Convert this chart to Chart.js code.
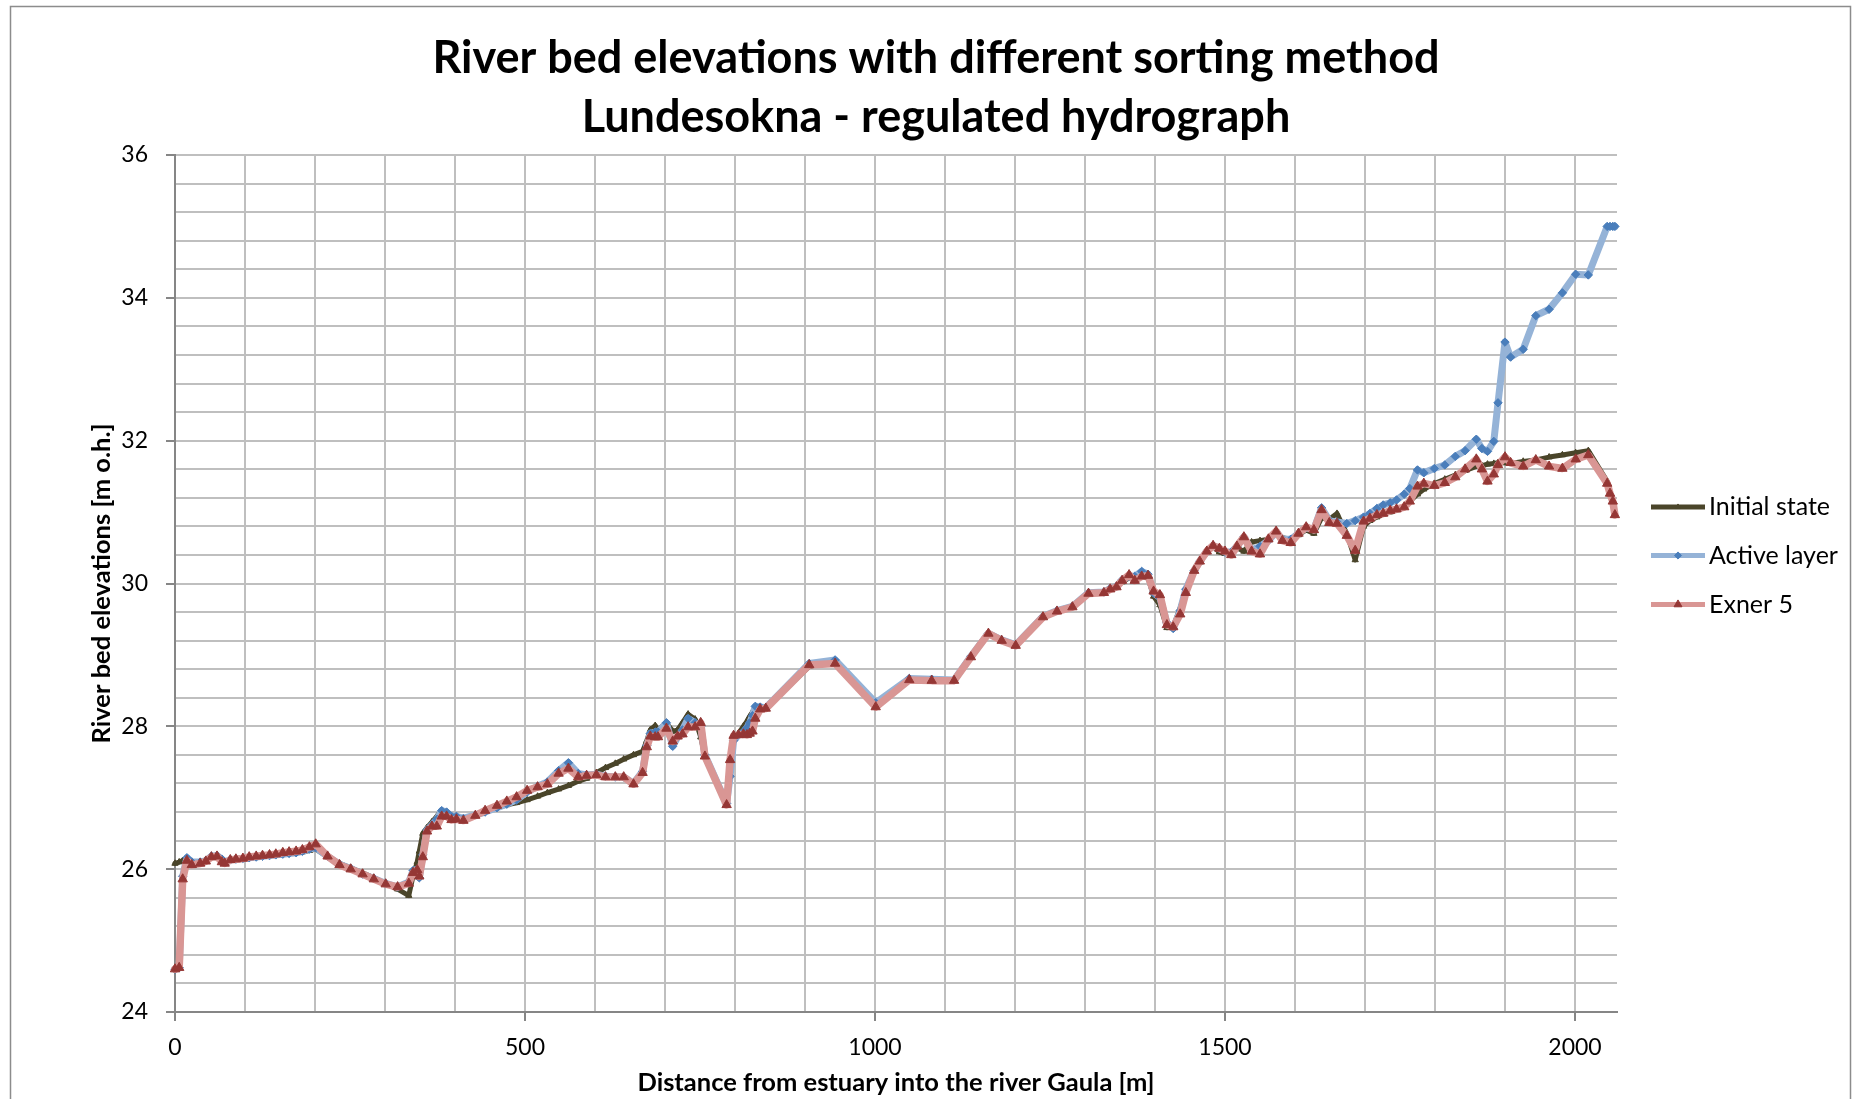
<!DOCTYPE html>
<html>
<head>
<meta charset="utf-8">
<title>River bed elevations with different sorting method</title>
<script src="https://cdn.jsdelivr.net/npm/chart.js@4.4.1/dist/chart.umd.min.js"></script>
<style>
  html, body { margin: 0; padding: 0; background: #ffffff; }
  #wrap { width: 1860px; height: 1099px; }
</style>
</head>
<body>
<div id="wrap"><canvas id="chart" width="1860" height="1099"></canvas></div>
<script>
// Cross-section positions along the river [m]
const distance = [
  0, 6, 11, 17, 24, 36, 44, 52, 60, 67,
  71, 79, 87, 97, 106, 116, 125, 135, 144, 154,
  163, 173, 182, 192, 201, 218, 235, 251, 268, 284,
  301, 318, 334, 340, 346, 349, 354, 360, 367, 374,
  381, 388, 395, 402, 412, 429, 443, 460, 474, 488,
  503, 518, 532, 548, 562, 576, 588, 602, 615, 629,
  641, 655, 668, 674, 679, 686, 690, 702, 711, 718,
  725, 733, 743, 751, 757, 788, 793, 798, 805, 812,
  817, 821, 825, 829, 836, 844, 906, 943, 1001, 1049,
  1081, 1113, 1137, 1162, 1181, 1201, 1240, 1260, 1282, 1305,
  1327, 1336, 1345, 1353, 1363, 1371, 1381, 1390, 1398, 1407,
  1417, 1426, 1436, 1444, 1456, 1464, 1474, 1483, 1492, 1500,
  1509, 1517, 1527, 1538, 1550, 1562, 1573, 1582, 1594, 1605,
  1616, 1627, 1638, 1649, 1660, 1674, 1686, 1698, 1707, 1717,
  1726, 1736, 1745, 1756, 1764, 1775, 1784, 1799, 1814, 1829,
  1843, 1859, 1867, 1875, 1884, 1890, 1900, 1908, 1926, 1944,
  1963, 1982, 2001, 2019, 2046, 2050, 2054, 2057
];

// Bed elevation before the simulation [m o.h.]
const initialState = [
  26.08, 26.10, 26.12, 26.15, 26.10, 26.10, 26.12, 26.16, 26.18, 26.13,
  26.10, 26.13, 26.14, 26.15, 26.16, 26.17, 26.18, 26.19, 26.20, 26.21,
  26.22, 26.23, 26.24, 26.26, 26.28, 26.17, 26.08, 26.02, 25.95, 25.88,
  25.80, 25.72, 25.63, 25.90, 26.10, 26.25, 26.50, 26.58, 26.66, 26.74,
  26.82, 26.78, 26.74, 26.72, 26.70, 26.76, 26.81, 26.86, 26.90, 26.93,
  26.97, 27.02, 27.07, 27.12, 27.17, 27.23, 27.27, 27.35, 27.42, 27.48,
  27.54, 27.60, 27.65, 27.80, 27.95, 28.01, 27.95, 28.05, 27.93, 27.95,
  28.05, 28.17, 28.10, 27.85, 27.58, 26.92, 27.40, 27.84, 27.90, 28.00,
  28.07, 28.14, 28.20, 28.28, 28.26, 28.25, 28.84, 28.90, 28.33, 28.65,
  28.64, 28.64, 28.97, 29.29, 29.20, 29.13, 29.53, 29.61, 29.67, 29.86,
  29.87, 29.92, 29.95, 30.02, 30.08, 30.06, 30.10, 30.08, 29.82, 29.70,
  29.38, 29.40, 29.66, 29.90, 30.18, 30.30, 30.44, 30.52, 30.44, 30.42,
  30.44, 30.50, 30.45, 30.58, 30.60, 30.62, 30.70, 30.64, 30.62, 30.68,
  30.75, 30.70, 30.92, 30.90, 30.98, 30.70, 30.33, 30.80, 30.88, 30.93,
  30.97, 31.00, 31.03, 31.08, 31.15, 31.25, 31.32, 31.40, 31.46, 31.52,
  31.58, 31.64, 31.65, 31.67, 31.68, 31.69, 31.69, 31.68, 31.71, 31.73,
  31.77, 31.80, 31.83, 31.86, 31.43, null, null, null
];

// Bed elevation, active layer sorting [m o.h.]
const activeLayer = [
  24.60, 24.62, 25.90, 26.16, 26.10, 26.10, 26.12, 26.18, 26.19, 26.14,
  26.10, 26.13, 26.14, 26.15, 26.16, 26.17, 26.18, 26.19, 26.20, 26.21,
  26.22, 26.23, 26.25, 26.28, 26.30, 26.18, 26.07, 26.01, 25.93, 25.87,
  25.80, 25.75, 25.82, 25.98, 26.00, 25.88, 26.20, 26.55, 26.62, 26.70,
  26.82, 26.80, 26.74, 26.74, 26.71, 26.76, 26.80, 26.86, 26.91, 26.97,
  27.08, 27.16, 27.22, 27.38, 27.49, 27.34, 27.32, 27.33, 27.30, 27.29,
  27.29, 27.20, 27.37, 27.73, 27.90, 27.92, 27.92, 28.05, 27.72, 27.85,
  27.95, 28.11, 28.05, 28.00, 27.60, 26.92, 27.30, 27.80, 27.88, 27.92,
  27.98, 28.05, 28.15, 28.28, 28.27, 28.26, 28.88, 28.93, 28.33, 28.67,
  28.66, 28.65, 28.98, 29.30, 29.21, 29.14, 29.54, 29.62, 29.68, 29.87,
  29.88, 29.93, 29.96, 30.05, 30.10, 30.10, 30.17, 30.13, 29.87, 29.80,
  29.45, 29.37, 29.62, 29.92, 30.18, 30.31, 30.45, 30.53, 30.49, 30.44,
  30.44, 30.52, 30.65, 30.47, 30.52, 30.60, 30.72, 30.62, 30.62, 30.70,
  30.78, 30.76, 31.06, 30.88, 30.86, 30.84, 30.88, 30.93, 30.98, 31.05,
  31.10, 31.13, 31.17, 31.25, 31.33, 31.59, 31.55, 31.61, 31.66, 31.78,
  31.86, 32.02, 31.89, 31.85, 31.99, 32.53, 33.38, 33.17, 33.28, 33.75,
  33.84, 34.07, 34.33, 34.32, 35.00, 35.00, 35.00, 35.00
];

// Bed elevation, Exner 5 sorting [m o.h.]
const exner5 = [
  24.60, 24.62, 25.86, 26.12, 26.06, 26.08, 26.11, 26.17, 26.18, 26.10,
  26.08, 26.13, 26.14, 26.15, 26.17, 26.18, 26.19, 26.20, 26.21, 26.23,
  26.24, 26.25, 26.27, 26.31, 26.35, 26.18, 26.06, 26.00, 25.93, 25.86,
  25.79, 25.75, 25.80, 25.95, 25.99, 25.90, 26.17, 26.53, 26.60, 26.60,
  26.74, 26.74, 26.69, 26.70, 26.68, 26.75, 26.82, 26.89, 26.95, 27.01,
  27.10, 27.15, 27.19, 27.34, 27.41, 27.29, 27.31, 27.32, 27.29, 27.29,
  27.29, 27.19, 27.35, 27.71, 27.86, 27.85, 27.85, 27.97, 27.79, 27.86,
  27.89, 27.99, 27.99, 28.05, 27.58, 26.90, 27.53, 27.87, 27.88, 27.89,
  27.88, 27.90, 27.93, 28.11, 28.24, 28.25, 28.86, 28.88, 28.27, 28.65,
  28.64, 28.64, 28.97, 29.30, 29.20, 29.13, 29.53, 29.61, 29.67, 29.86,
  29.87, 29.92, 29.95, 30.04, 30.12, 30.04, 30.10, 30.11, 29.89, 29.84,
  29.42, 29.39, 29.57, 29.87, 30.18, 30.31, 30.45, 30.53, 30.49, 30.45,
  30.40, 30.52, 30.65, 30.45, 30.41, 30.62, 30.73, 30.60, 30.57, 30.70,
  30.79, 30.75, 31.03, 30.85, 30.84, 30.67, 30.46, 30.87, 30.91, 30.96,
  30.98, 31.02, 31.04, 31.07, 31.15, 31.36, 31.40, 31.37, 31.41, 31.49,
  31.60, 31.74, 31.60, 31.43, 31.53, 31.66, 31.77, 31.69, 31.64, 31.73,
  31.64, 31.61, 31.74, 31.80, 31.40, 31.26, 31.15, 30.96
];

// Axis labels
const xTickLabels = [0, 500, 1000, 1500, 2000];
const yTickLabels = [24, 26, 28, 30, 32, 34, 36];

const seriesNames = ['Initial state', 'Active layer', 'Exner 5'];
const titleLines = [
  'River bed elevations with different sorting method',
  'Lundesokna - regulated hydrograph'
];
const xAxisTitle = 'Distance from estuary into the river Gaula [m]';
const yAxisTitle = 'River bed elevations [m o.h.]';

// Axis ranges and grid spacing
const X_MIN = 0, X_MAX = 2060, X_GRID = 100, X_GRID_END = 2000;
const Y_MIN = 24, Y_MAX = 36, Y_GRID = 0.4;

const FONT = 'Lato';
const GRID_COLOR = '#bfbfbf';
const AXIS_COLOR = '#868686';

function toPoints(values) {
  const pts = [];
  values.forEach((v, i) => { if (v !== null) pts.push({ x: distance[i], y: v }); });
  return pts;
}

function gridValues(start, end, step) {
  const out = [];
  const n = Math.round((end - start) / step);
  for (let i = 0; i <= n; i++) out.push(Math.round((start + i * step) * 1000) / 1000);
  return out;
}

// Title and legend painted around the plot area
const framePlugin = {
  id: 'frame',
  beforeDraw(chart) {
    const { ctx, width, height } = chart;
    ctx.save();
    ctx.fillStyle = '#ffffff';
    ctx.fillRect(0, 0, width, height);
    ctx.strokeStyle = '#8c8c8c';
    ctx.lineWidth = 1.5;
    ctx.strokeRect(10.5, 6.5, width - 20, height + 10);
    ctx.restore();
  },
  afterDraw(chart, args, opts) {
    const { ctx } = chart;
    ctx.save();
    ctx.fillStyle = '#000000';
    ctx.textAlign = 'center';
    ctx.textBaseline = 'middle';
    ctx.font = `bold ${opts.titleSize}px ${FONT}`;
    titleLines.forEach((line, i) => ctx.fillText(line, opts.titleX, opts.titleY[i]));

    chart.data.datasets.forEach((ds, i) => {
      const y = opts.legendRows[i];
      ctx.strokeStyle = ds.borderColor;
      ctx.lineWidth = opts.legendLineWidth;
      ctx.lineCap = 'butt';
      ctx.beginPath();
      ctx.moveTo(opts.legendX0, y);
      ctx.lineTo(opts.legendX1, y);
      ctx.stroke();
      ctx.fillStyle = ds.pointBackgroundColor;
      ctx.strokeStyle = ds.pointBorderColor;
      ctx.lineWidth = ds.pointBorderWidth;
      Chart.helpers.drawPoint(ctx, {
        pointStyle: ds.pointStyle, radius: ds.pointRadius * 0.85,
        borderWidth: ds.pointBorderWidth, rotation: 0
      }, (opts.legendX0 + opts.legendX1) / 2, y);
      ctx.fillStyle = '#000000';
      ctx.textAlign = 'left';
      ctx.textBaseline = 'middle';
      ctx.font = `${opts.legendSize}px ${FONT}`;
      ctx.fillText(ds.label, opts.legendTextX, y);
    });
    ctx.restore();
  }
};

const ctx = document.getElementById('chart').getContext('2d');
new Chart(ctx, {
  type: 'scatter',
  data: {
    datasets: [
      {
        label: seriesNames[0],
        data: toPoints(initialState),
        showLine: true,
        borderColor: '#4a452a',
        borderWidth: 5,
        pointStyle: 'triangle',
        pointRadius: 3.6,
        pointBackgroundColor: '#4a452a',
        pointBorderColor: '#4a452a',
        pointBorderWidth: 1,
        order: 3,
        clip: false
      },
      {
        label: seriesNames[1],
        data: toPoints(activeLayer),
        showLine: true,
        borderColor: '#95b3d7',
        borderWidth: 7,
        pointStyle: 'rectRot',
        pointRadius: 4.2,
        pointBackgroundColor: '#4a7ebb',
        pointBorderColor: '#4a7ebb',
        pointBorderWidth: 1,
        order: 2,
        clip: false
      },
      {
        label: seriesNames[2],
        data: toPoints(exner5),
        showLine: true,
        borderColor: '#d99694',
        borderWidth: 7.5,
        pointStyle: 'triangle',
        pointRadius: 5.4,
        pointBackgroundColor: '#953735',
        pointBorderColor: '#953735',
        pointBorderWidth: 1,
        order: 1,
        clip: false
      }
    ]
  },
  options: {
    responsive: false,
    devicePixelRatio: 1,
    animation: false,
    layout: { padding: { top: 155, right: 243, bottom: 0, left: 0 } },
    elements: { line: { tension: 0, borderJoinStyle: 'round', borderCapStyle: 'round' } },
    plugins: {
      legend: { display: false },
      tooltip: { enabled: false },
      title: { display: false },
      frame: {
        titleSize: 45, titleX: 936, titleY: [58, 117.5],
        legendRows: [507, 555.5, 604.5], legendX0: 1651, legendX1: 1705,
        legendTextX: 1709, legendSize: 25, legendLineWidth: 5
      }
    },
    scales: {
      x: {
        type: 'linear',
        min: X_MIN,
        max: X_MAX,
        afterBuildTicks: (scale) => {
          scale.ticks = gridValues(X_MIN, X_GRID_END, X_GRID).map(v => ({ value: v }));
        },
        afterFit: (scale) => { scale.height = 87; },
        ticks: {
          autoSkip: false,
          maxRotation: 0,
          padding: 13,
          color: '#000000',
          font: { family: FONT, size: 23 },
          callback: (v) => xTickLabels.includes(v) ? String(v) : ''
        },
        grid: {
          color: (c) => c.tick && c.tick.value === X_MIN ? 'rgba(0,0,0,0)' : GRID_COLOR,
          lineWidth: 2,
          tickLength: 9,
          tickWidth: 2,
          tickColor: (c) => c.tick && xTickLabels.includes(c.tick.value) ? AXIS_COLOR : 'rgba(0,0,0,0)'
        },
        border: { color: AXIS_COLOR, width: 2 },
        title: {
          display: true,
          text: xAxisTitle,
          color: '#000000',
          font: { family: FONT, size: 25.5, weight: 'bold' },
          padding: { top: 0, bottom: 1 }
        }
      },
      y: {
        type: 'linear',
        min: Y_MIN,
        max: Y_MAX,
        afterBuildTicks: (scale) => {
          scale.ticks = gridValues(Y_MIN, Y_MAX, Y_GRID).map(v => ({ value: v }));
        },
        afterFit: (scale) => { scale.width = 175; },
        ticks: {
          autoSkip: false,
          padding: 18,
          color: '#000000',
          font: { family: FONT, size: 23 },
          callback: (v) => yTickLabels.includes(v) ? String(v) : ''
        },
        grid: {
          color: (c) => c.tick && c.tick.value === Y_MIN ? 'rgba(0,0,0,0)' : GRID_COLOR,
          lineWidth: 2,
          tickLength: 9,
          tickWidth: 2,
          tickColor: (c) => c.tick && yTickLabels.includes(c.tick.value) ? AXIS_COLOR : 'rgba(0,0,0,0)'
        },
        border: { color: AXIS_COLOR, width: 2 },
        title: {
          display: true,
          text: yAxisTitle,
          color: '#000000',
          font: { family: FONT, size: 25.5, weight: 'bold' },
          padding: { top: 86, bottom: 0 }
        }
      }
    }
  },
  plugins: [framePlugin]
});
</script>
</body>
</html>
